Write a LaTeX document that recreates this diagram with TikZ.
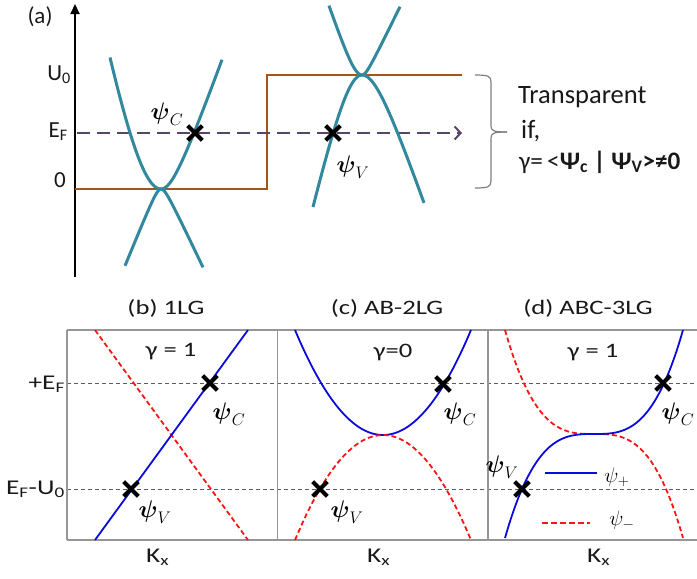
\RequirePackage{fix-cm}
\documentclass[tikz,border=0pt]{standalone}
\usepackage{amsmath}
\usepackage{fontspec}
\setmainfont{Carlito}
\newfontfamily\widefont[FakeStretch=1.3]{Carlito}
\usetikzlibrary{arrows.meta,shapes.misc}
\definecolor{conec}{RGB}{50,136,156}
\definecolor{stepc}{RGB}{165,85,25}
\definecolor{purpc}{RGB}{85,70,105}
\definecolor{framec}{RGB}{150,150,150}
\definecolor{gdashc}{RGB}{90,90,110}
\definecolor{bluec}{RGB}{10,10,220}
\definecolor{redc}{RGB}{250,20,20}
\definecolor{txtc}{RGB}{25,25,25}
\tikzset{
  cone/.style={conec, line width=3pt},
  xm/.style={cross out, draw=black, line width=4.2pt, minimum size=10.5pt, inner sep=0pt},
  alab/.style={inner sep=0pt, text=txtc, font=\fontsize{23}{24}\selectfont},
  blab/.style={inner sep=0pt, text=txtc, font=\widefont\fontsize{20.5}{22}\selectfont},
  axlab/.style={inner sep=0pt, text=txtc, font=\widefont\fontsize{21}{22}\selectfont},
  tlab/.style={inner sep=0pt, text=txtc, font=\fontsize{26.5}{28}\selectfont},
  psil/.style={inner sep=0pt, font=\fontsize{24}{24}\selectfont},
  frameline/.style={framec, line width=1.5pt},
  gdash/.style={gdashc, line width=0.9pt, dash pattern=on 4pt off 3pt},
  bcurve/.style={bluec, line width=1.8pt},
  rcurve/.style={redc, line width=1.8pt, dash pattern=on 5pt off 3pt},
}
\begin{document}
\begin{tikzpicture}[x=1pt,y=-1pt]
\useasboundingbox (0,0) rectangle (697,579);

% ---------------- panel (a) ----------------
\node[alab] (la) at (40,17) {(a)};
\draw[line width=2.2pt, -{Triangle[length=10pt,width=9pt]}] (75,277) -- (75,4);
\draw[stepc, line width=2.7pt] (75,189) -- (267,189) -- (267,75) -- (462,75);
\draw[purpc, line width=2.3pt, dash pattern=on 13pt off 7pt,
      -{Straight Barb[length=6pt,width=13pt,line width=2pt]}] (77,133) -- (462,133);
\node[alab, anchor=base east] (lu0) at (71,80) {U\textsubscript{0}};
\node[alab, anchor=base east] (lef) at (68,137) {E\textsubscript{F}};
\node[alab, anchor=base east] (lzero) at (66,187) {0};

% left cone (vertex 161,189)
\draw[cone] plot[domain=-51:0, samples=50] ({161+\x},{189-5.3*(sqrt(1600+\x*\x)-40)})
  -- plot[domain=0:61, samples=50] ({161+\x},{189-2.79*(sqrt(289+\x*\x)-17)});
\draw[cone] plot[domain=-36:0, samples=50] ({161+\x},{189+2.45*(sqrt(25+\x*\x)-5)})
  -- plot[domain=0:42, samples=50] ({161+\x},{189+2.1*(sqrt(25+\x*\x)-5)});
% right cone (vertex 362,75)
\draw[cone] plot[domain=-33:0, samples=50] ({362+\x},{75-3.0*(sqrt(144+\x*\x)-12)})
  -- plot[domain=0:38, samples=50] ({362+\x},{75-2.05*(sqrt(25+\x*\x)-5)});
\draw[cone] plot[domain=-49:0, samples=50] ({362+\x},{75+4.4*(sqrt(625+\x*\x)-25)})
  -- plot[domain=0:62, samples=50] ({362+\x},{75+2.92*(sqrt(484+\x*\x)-22)});

\node[xm] (xca) at (195,133) {};
\node[xm] (xva) at (333,133) {};
\node[psil] (pca) at (167,114) {$\boldsymbol{\psi}_{C}$};
\node[psil] (pva) at (353,167) {$\boldsymbol{\psi}_{V}$};

% brace
\draw[gray, line width=1.2pt] (475,75) .. controls (488,75) and (491,76) .. (491,82)
  -- (491,126) .. controls (491,131) and (494,132) .. (507,132);
\draw[gray, line width=1.2pt] (475,188) .. controls (488,188) and (491,187) .. (491,181)
  -- (491,138) .. controls (491,133) and (494,132) .. (507,132);
\node[tlab, anchor=base west] (ttr) at (518,103) {Transparent};
\node[tlab, anchor=base west] (tif) at (521,138) {if,};
\node[tlab, anchor=base west, font=\fontsize{25.2}{27}\selectfont] (tgam) at (519,169)
  {γ=\,<\textbf{Ψ\textsubscript{c} | Ψ\textsubscript{V}>≠0}};

% ---------------- panels (b)-(d) ----------------
\node[blab] (tb) at (166,308) {(b) 1LG};
\node[blab] (tc) at (387,308) {(c) AB-2LG};
\node[blab] (td) at (588,308) {(d) ABC-3LG};

\draw[gdash] (67,383) -- (697,383);
\draw[gdash] (67,489) -- (697,489);
\draw[frameline] (67,330) -- (697,330);
\draw[frameline] (67,540) -- (697,540);
\draw[frameline] (67,330) -- (67,540);
\draw[frameline] (277.5,330) -- (277.5,540);
\draw[frameline] (488,330) -- (488,540);

\node[axlab, anchor=base east] (lpef) at (65,389) {+E\textsubscript{F}};
\node[axlab, anchor=base east] (lefu) at (65,494) {E\textsubscript{F}-U\textsubscript{0}};

\node[axlab, anchor=base west] (kb) at (146,562) {K\textsubscript{x}};
\node[axlab, anchor=base west] (kc) at (367,562) {K\textsubscript{x}};
\node[axlab, anchor=base west] (kd) at (587,562) {K\textsubscript{x}};

% (b)
\draw[rcurve] (95,330) -- (248,540);
\draw[bcurve] (95,540) -- (248,330);
\node[blab] (gb) at (171,352) {γ = 1};
\node[xm] (xcb) at (210,383) {};
\node[xm] (xvb) at (131,489) {};
\node[psil] (pcb) at (229,414) {$\boldsymbol{\psi}_{C}$};
\node[psil] (pvb) at (155,512) {$\boldsymbol{\psi}_{V}$};

% (c)
\draw[bcurve] plot[domain=295:471, samples=80] ({\x},{435-0.01356*(\x-383)*(\x-383)});
\draw[rcurve] plot[domain=295:471, samples=80] ({\x},{435+0.01356*(\x-383)*(\x-383)});
\node[blab] (gc) at (393,352) {γ=0};
\node[xm] (xcc) at (443,384) {};
\node[xm] (xvc) at (320,489) {};
\node[psil] (pcc) at (460,414) {$\boldsymbol{\psi}_{C}$};
\node[psil] (pvc) at (347,512) {$\boldsymbol{\psi}_{V}$};

% (d)
\draw[rcurve] plot[domain=505:683, samples=90] ({\x},{434+0.1475*((\x-594)/10)*((\x-594)/10)*((\x-594)/10)});
\draw[bcurve] plot[domain=505:683, samples=90] ({\x},{434-0.1475*((\x-594)/10)*((\x-594)/10)*((\x-594)/10)});
\node[blab] (gd) at (593,353) {γ = 1};
\node[xm] (xcd) at (663,383) {};
\node[xm] (xvd) at (522,489) {};
\node[psil] (pcd) at (678,414) {$\boldsymbol{\psi}_{C}$};
\node[psil] (pvd) at (502,467) {$\boldsymbol{\psi}_{V}$};

% legend
\coordinate (lb1) at (545,473);
\coordinate (lb2) at (597,473);
\coordinate (lr1) at (542,523);
\coordinate (lr2) at (590,523);
\draw[bluec, line width=2.6pt] (lb1) -- (lb2);
\draw[redc, line width=2.6pt, dash pattern=on 6pt off 3pt] (lr1) -- (lr2);
\node[inner sep=0pt, font=\fontsize{21}{21}\selectfont] (lgp) at (617,477) {$\psi_{+}$};
\node[inner sep=0pt, font=\fontsize{21}{21}\selectfont] (lgm) at (622,520) {$\psi_{-}$};
\end{tikzpicture}
\end{document}
